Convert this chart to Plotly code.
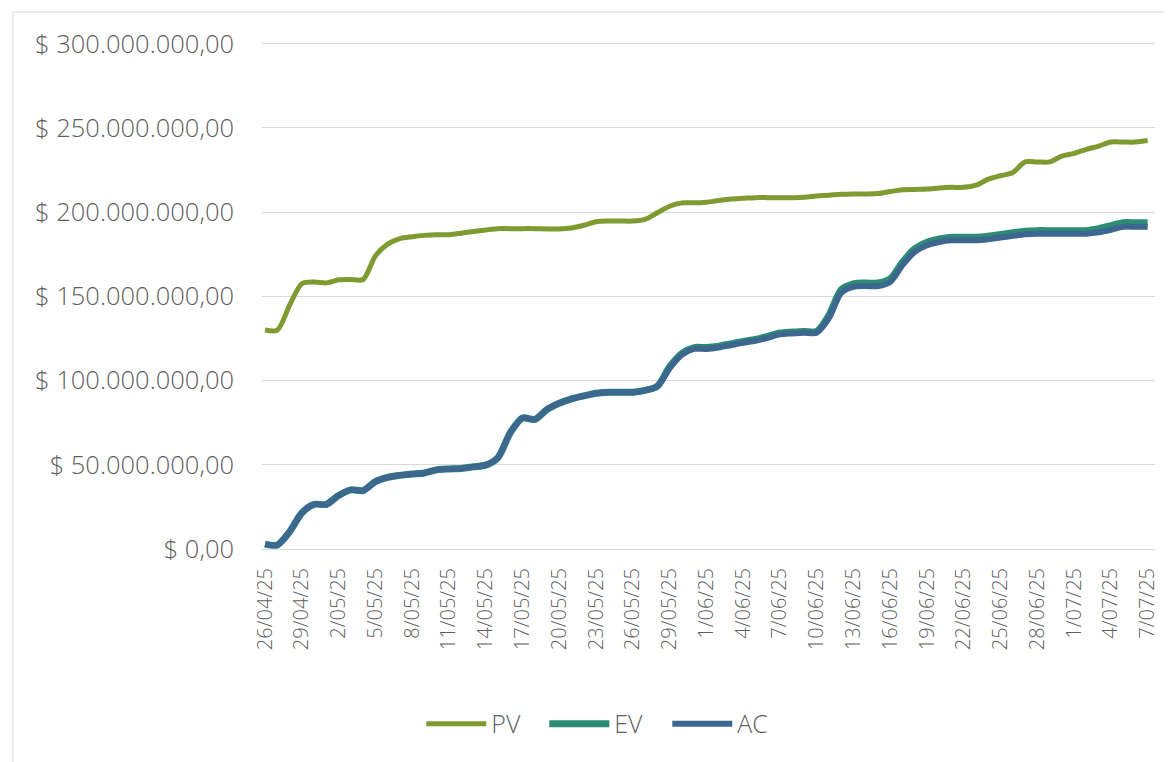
import pandas as pd
import plotly.graph_objects as go

# Categories: daily dates 26/04/25 .. 7/07/25
dates = pd.date_range("2025-04-26", "2025-07-07", freq="D")
categories = [f"{d.day}/{d.month:02d}/{d.strftime('%y')}" for d in dates]

# Values in millions of $
pv = [130, 130, 144.7, 157.5, 158.5, 158, 159.8, 160, 160, 174,
      181, 184.3, 185.4, 186.2, 186.6, 186.6, 187.5, 188.5, 189.4, 190.2,
      190.2, 190.2, 190.2, 190, 190, 190.6, 192.2, 194.3, 194.7, 194.7,
      194.7, 195.7, 199.6, 203.5, 205.5, 205.5, 205.9, 206.9, 207.8, 208.2,
      208.6, 208.6, 208.6, 208.6, 208.8, 209.6, 210, 210.6, 210.8, 210.8,
      211, 212.2, 213.3, 213.5, 213.7, 214.3, 214.7, 214.7, 216, 219.6,
      221.6, 223.5, 229.8, 229.8, 229.8, 233.3, 234.9, 237.3, 239.2, 241.6,
      241.6, 241.6, 242.5]

ev = [2.9, 2.4, 10.2, 21.4, 26.5, 26.5, 31.8, 35.1, 34.7, 40,
      42.5, 43.7, 44.5, 45.1, 47, 47.5, 47.8, 48.8, 49.8, 54.3,
      69, 77.8, 76.9, 82.8, 86.5, 89.1, 90.9, 92.5, 93.1, 93.1,
      93.1, 94.2, 96.6, 108.1, 116.1, 119.6, 119.6, 120.4, 121.8, 123.2,
      124.4, 126.2, 128.2, 128.8, 129.2, 129.2, 138.8, 153.9, 157.4, 157.9,
      157.9, 160.4, 170.3, 178.2, 182.1, 184.1, 185.1, 185.1, 185.1, 185.7,
      186.7, 187.7, 188.6, 189.0, 189.0, 189.0, 189.0, 189.0, 190.2, 191.9,
      193.7, 193.7, 193.7]

ac = [2.9, 2.4, 10.2, 21.4, 26.5, 26.5, 31.8, 35.1, 34.7, 40,
      42.5, 43.7, 44.5, 45.1, 47, 47.5, 47.8, 48.8, 49.8, 54.3,
      69, 77.8, 76.9, 82.8, 86.5, 89.1, 90.9, 92.5, 93.1, 93.1,
      93.1, 94.2, 96.6, 107.3, 115.3, 118.8, 118.8, 119.6, 121.0, 122.4,
      123.6, 125.4, 127.4, 128.0, 128.4, 128.4, 137.0, 152.1, 155.6, 156.1,
      156.1, 158.6, 168.5, 176.4, 180.3, 182.3, 183.3, 183.3, 183.3, 183.9,
      184.9, 185.9, 186.8, 187.2, 187.2, 187.2, 187.2, 187.2, 188.0, 189.5,
      191.3, 191.3, 191.3]

y_tick_vals = [0, 50, 100, 150, 200, 250, 300]
y_tick_text = ["$ 0,00", "$ 50.000.000,00", "$ 100.000.000,00", "$ 150.000.000,00",
               "$ 200.000.000,00", "$ 250.000.000,00", "$ 300.000.000,00"]
x_tick_vals = categories[::3]

FONT = "Open Sans"
GRAY = "#5F5F5F"

fig = go.Figure()
fig.add_trace(go.Scatter(x=categories, y=pv, name="PV", mode="lines",
                         line=dict(color="#7E9A30", width=5, shape="spline", smoothing=0.8)))
fig.add_trace(go.Scatter(x=categories, y=ev, name="EV", mode="lines",
                         line=dict(color="#2E8B74", width=7, shape="spline", smoothing=0.8)))
fig.add_trace(go.Scatter(x=categories, y=ac, name="AC", mode="lines",
                         line=dict(color="#3C6890", width=6, shape="spline", smoothing=0.8)))

fig.update_layout(
    width=1164, height=754,
    margin=dict(l=254, r=15, t=34, b=213),
    paper_bgcolor="white", plot_bgcolor="white",
    font=dict(family=FONT, color=GRAY, size=20, weight=300),
    showlegend=True,
    legend=dict(orientation="h", x=0.385, xanchor="center", y=-0.345, yanchor="middle",
                font=dict(size=25, color=GRAY, weight=300), itemwidth=60, traceorder="normal",
                entrywidth=48, entrywidthmode="pixels"),
    shapes=[dict(type="rect", xref="paper", yref="paper",
                 x0=-0.279, x1=1.05, y0=-0.45, y1=1.059,
                 line=dict(color="#D9D9D9", width=1), fillcolor="rgba(0,0,0,0)", layer="below")],
)
fig.update_xaxes(
    type="category", range=[-0.25, 72.6],
    tickvals=x_tick_vals, ticktext=x_tick_vals, tickangle=-90,
    tickfont=dict(size=20, color=GRAY, family=FONT, weight=300),
    showgrid=False, showline=True, linecolor="#D9D9D9", linewidth=1,
    ticks="", ticklabelstandoff=10, zeroline=False,
)
fig.update_yaxes(
    range=[0, 301], tickvals=y_tick_vals, ticktext=y_tick_text,
    tickfont=dict(size=25.5, color=GRAY, family=FONT, weight=300),
    showgrid=True, gridcolor="#D9D9D9", gridwidth=1, zeroline=False,
    showline=False, ticks="", ticklabelstandoff=27,
)

fig.write_html("out.html")
